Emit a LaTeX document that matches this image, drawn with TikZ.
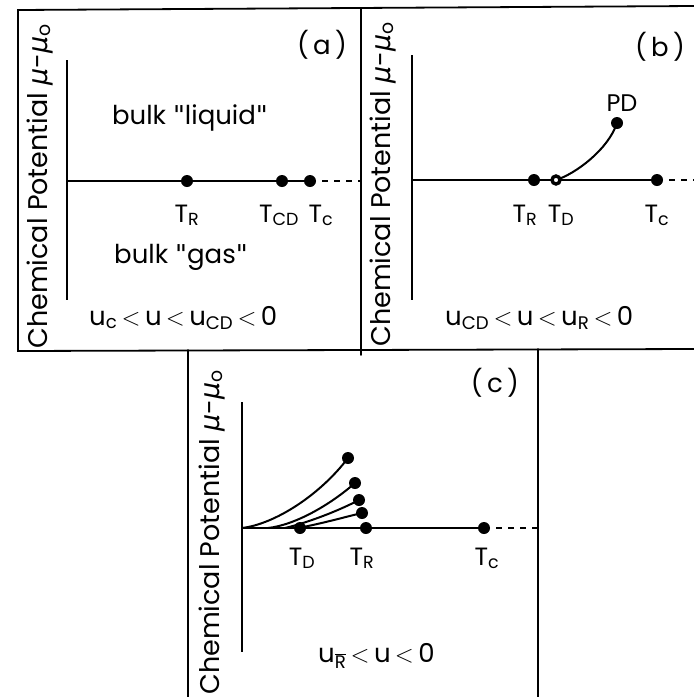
\documentclass[tikz,border=0pt]{standalone}
\usepackage{fontspec}
\setmainfont{Poppins}
\newfontfamily\grk{DejaVu Sans}
\newcommand{\lt}{\,$<$\,}
\newcommand{\muit}{{\grk\itshape μ}}
\newcommand{\qq}{{\grk\symbol{34}}}
\begin{document}
\begin{tikzpicture}[x=1pt,y=-1pt,
  frame/.style={line width=1.8pt, line cap=round},
  axis/.style={line width=2.4pt},
  curve/.style={line width=2pt},
  dashln/.style={line width=2pt, dash pattern=on 6pt off 6pt},
  dot/.style={circle, fill=black, inner sep=0pt, minimum size=12pt},
  ring/.style={circle, draw=black, line width=3.4pt, fill=white, inner sep=0pt, minimum size=8pt},
  txt/.style={inner sep=0pt, font=\fontsize{26}{28}\selectfont},
  cond/.style={inner sep=0pt, anchor=base west, font=\fontsize{26}{28}\selectfont},
  tlab/.style={inner sep=0pt, anchor=base, font=\fontsize{25}{27}\selectfont},
  ylab/.style={inner sep=0pt, rotate=90, anchor=base west, font=\fontsize{27}{29}\selectfont}]
\path[use as bounding box] (0,0) rectangle (694,697);
% frames
\coordinate (f1) at (18,10); \coordinate (f2) at (694,6);
\coordinate (f3) at (18,351); \coordinate (f4) at (694,349);
\coordinate (m1) at (361,8); \coordinate (m2) at (361,355);
\coordinate (c1) at (188,350); \coordinate (c2) at (188,697);
\coordinate (c3) at (538,349); \coordinate (c4) at (538,697);
\draw[frame] (f2) -- (f1) -- (f3) -- (f4);
\draw[frame] (m1) -- (m2);
\draw[frame] (c1) -- (c2);
\draw[frame] (c3) -- (c4);

% ---------- panel (a)
\node[ylab] (yla) at (47,349) {Chemical Potential \muit-\muit\textsubscript{o}};
\coordinate (aY1) at (67,60); \coordinate (aO) at (67,181); \coordinate (aY2) at (67,300);
\draw[axis] (aY1) -- (aY2);
\node[dot] (aTR) at (187,181) {};
\node[dot] (aTCD) at (282,181) {};
\node[dot] (aTc) at (310,181) {};
\coordinate (aE) at (361,181);
\draw[axis] (aO) -- (aTc.center);
\draw[dashln] (aTc.center) -- (aE);
\node[tlab] (laTR) at (187,222) {T\textsubscript{R}};
\node[tlab] (laTCD) at (279,222) {T\textsubscript{CD}};
\node[tlab] (laTc) at (321,222) {T\textsubscript{c}};
\node[txt] (liq) at (190,118) {bulk \qq liquid\qq};
\node[txt] (gas) at (181,257) {bulk \qq gas\qq};
\node[txt] (pa) at (322,45) {(\,a\,)};
\node[cond] (conda) at (89,325) {u\textsubscript{c}\lt u\lt u\textsubscript{CD}\lt 0};

% ---------- panel (b)
\node[ylab] (ylb) at (390,347) {Chemical Potential \muit-\muit\textsubscript{o}};
\coordinate (bY1) at (412,55); \coordinate (bO) at (412,180); \coordinate (bY2) at (412,300);
\draw[axis] (bY1) -- (bY2);
\node[dot] (bTR) at (534,180) {};
\node[dot] (bTc) at (657,180) {};
\coordinate (bE) at (694,180);
\draw[axis] (bO) -- (bTc.center);
\draw[dashln] (bTc.center) -- (bE);
\node[dot] (bPD) at (617,123) {};
\draw[curve] (556,180) .. controls (575,174) and (608,150) .. (bPD.center);
\node[ring] (bTD) at (556,180) {};
\node[tlab] (lbTR) at (525,222) {T\textsubscript{R}};
\node[tlab] (lbTD) at (561,222) {T\textsubscript{D}};
\node[tlab] (lbTc) at (657,222) {T\textsubscript{c}};
\node[txt, font=\fontsize{24}{26}\selectfont] (lPD) at (622,103) {PD};
\node[txt] (pb) at (660,47) {(\,b\,)};
\node[cond] (condb) at (445,325) {u\textsubscript{CD}\lt u\lt u\textsubscript{R}\lt 0};

% ---------- panel (c)
\node[ylab] (ylc) at (219,695) {Chemical Potential \muit-\muit\textsubscript{o}};
\coordinate (cY1) at (242,402); \coordinate (cO) at (242,528); \coordinate (cY2) at (242,652);
\draw[axis] (cY1) -- (cY2);
\node[dot] (cTD) at (300,528) {};
\node[dot] (cTR) at (366,528) {};
\node[dot] (cTc) at (484,528) {};
\coordinate (cE) at (538,528);
\draw[axis] (cO) -- (cTc.center);
\draw[dashln] (cTc.center) -- (cE);
\node[dot] (cP1) at (348,458) {};
\node[dot] (cP2) at (355,483) {};
\node[dot] (cP3) at (359,500) {};
\node[dot] (cP4) at (362,513) {};
\coordinate (cS2) at (268,528);
\coordinate (cS3) at (285,528);
\coordinate (cS4) at (298,528);
\draw[curve] (cO) .. controls (275,524) and (320,495) .. (cP1.center);
\draw[curve] (cS2) .. controls (295,525) and (330,505) .. (cP2.center);
\draw[curve] (cS3) .. controls (310,522) and (340,510) .. (cP3.center);
\draw[curve] (cS4) .. controls (320,524) and (345,517) .. (cP4.center);
\node[tlab] (lcTD) at (302,565) {T\textsubscript{D}};
\node[tlab] (lcTR) at (362,565) {T\textsubscript{R}};
\node[tlab] (lcTc) at (487,565) {T\textsubscript{c}};
\node[txt] (pc) at (495,383) {(\,c\,)};
\node[cond] (condc) at (318,662) {u\textsubscript{$\overline{\hbox{R}}$}\lt u\lt 0};
\end{tikzpicture}
\end{document}
